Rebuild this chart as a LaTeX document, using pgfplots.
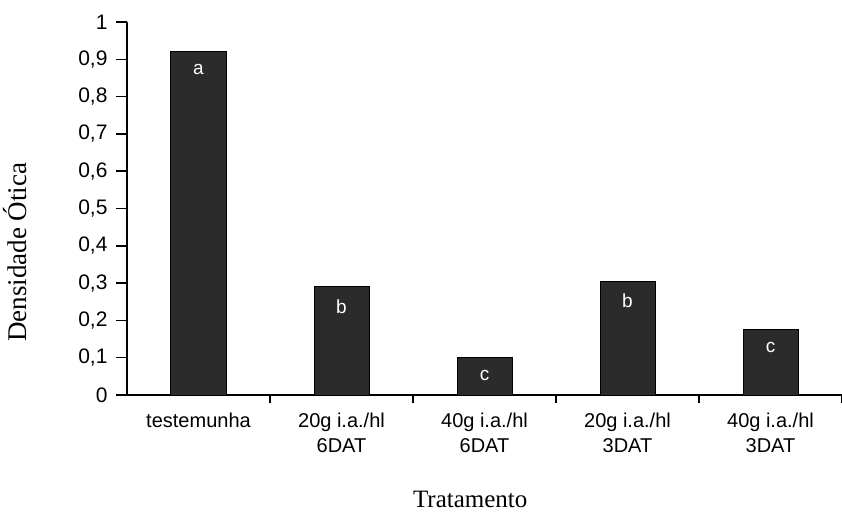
\documentclass[border=0pt]{standalone}
\usepackage{pgfplots}
\pgfplotsset{compat=1.18}
\usepackage{fontspec}
\setmainfont{Liberation Serif}
\setsansfont{Liberation Sans}

\begin{document}
\begin{tikzpicture}[x=1pt,y=1pt]
\useasboundingbox (-127,-120) rectangle (715,395);
\begin{axis}[
    at={(0,0)}, anchor=south west,
    scale only axis, width=715pt, height=373pt,
    xmin=-0.5, xmax=4.5, ymin=0, ymax=1,
    axis x line*=bottom, axis y line*=left,
    axis line style={-, line width=1.6pt},
    every tick/.style={black, line width=1.5pt},
    tick align=outside,
    xtick={0,...,4},
    xticklabels={testemunha, {20g i.a./hl\\6DAT}, {40g i.a./hl\\6DAT},
                 {20g i.a./hl\\3DAT}, {40g i.a./hl\\3DAT}},
    major x tick style={draw=none},
    minor xtick={0.5,1.5,2.5,3.5,4.5},
    minor tick length=8pt,
    major tick length=11pt,
    ytick={0,0.1,0.2,0.3,0.4,0.5,0.6,0.7,0.8,0.9,1},
    yticklabel style={xshift=-5pt, font=\sffamily\fontsize{21}{25}\selectfont,
      /pgf/number format/.cd, fixed, precision=1, use comma, assume math mode=true},
    xticklabel style={align=center, yshift=-3pt, font=\sffamily\fontsize{20}{25}\selectfont},
    xlabel={Tratamento},
    xlabel style={at={(axis description cs:0.48,-0.28)}, anchor=center, font=\fontsize{25}{28}\selectfont},
    ylabel={Densidade Ótica},
    ylabel style={at={(axis description cs:-0.157,0.383)}, anchor=center, font=\fontsize{27}{30}\selectfont},
  ]
  \addplot[ybar, bar width=55pt, fill=black!83, draw=black, line width=1pt,
    point meta=explicit symbolic,
    nodes near coords={\pgfplotspointmeta},
    nodes near coords style={anchor=north, yshift=-9pt, text=white, font=\sffamily\fontsize{19}{22}\selectfont}]
    coordinates {(0,0.922)[a] (1,0.29)[b] (2,0.10)[c] (3,0.305)[b] (4,0.175)[c]};
\end{axis}
\end{tikzpicture}
\end{document}
